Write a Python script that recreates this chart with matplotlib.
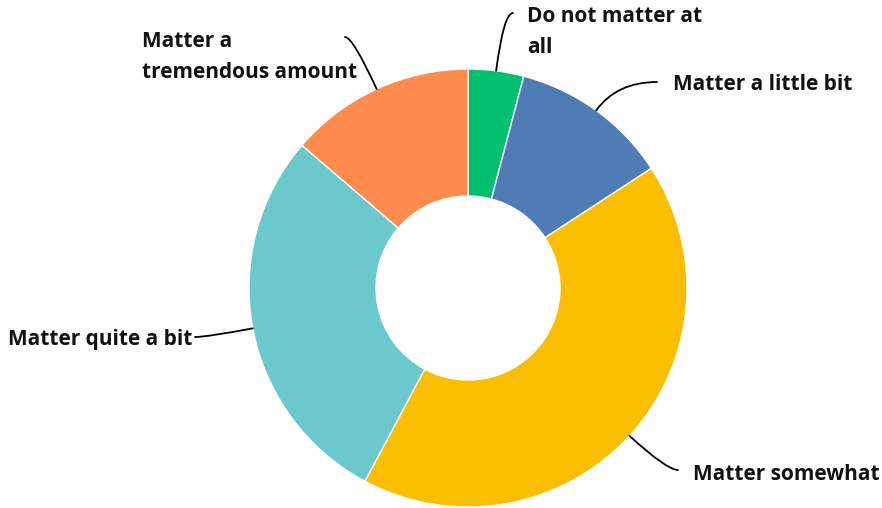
import numpy as np
import matplotlib
matplotlib.use("Agg")
import matplotlib.pyplot as plt

categories = ["Do not matter at\nall", "Matter a little bit", "Matter somewhat",
              "Matter quite a bit", "Matter a\ntremendous amount"]
values = [4.1, 11.7, 42.0, 28.5, 13.7]
colors = ["#00BF6F", "#507CB6", "#F9BE00", "#6BC8CD", "#FF8B4F"]

W, H = 882, 508
fig = plt.figure(figsize=(W / 100, H / 100), dpi=100)
ax = fig.add_axes([0, 0, 1, 1])
ax.set_xlim(0, W)
ax.set_ylim(0, H)
ax.set_aspect("equal")
ax.axis("off")

cx, cy, R = 468, H - 288, 219
wedges, _ = ax.pie(values, colors=colors, startangle=90, counterclock=False,
                   radius=R, center=(cx, cy),
                   wedgeprops=dict(width=R * 0.58, edgecolor="white", linewidth=1))
ax.set_xlim(0, W)
ax.set_ylim(0, H)

# label layout: (line end x, y in image px), (text x, text y in image px)
layout = [
    ((513, 13), (527, 32)),
    ((657, 82), (673, 85)),
    ((678, 470), (693, 474)),
    ((195, 337), (8, 340)),
    ((345, 37), (142, 57)),
]

for w, lab, (end, tpos) in zip(wedges, categories, layout):
    mid = np.deg2rad((w.theta1 + w.theta2) / 2)
    sx, sy = cx + R * np.cos(mid), cy + R * np.sin(mid)
    ex, ey = end[0], H - end[1]
    ang = np.rad2deg(mid)
    ax.annotate("", xy=(sx, sy), xytext=(ex, ey),
                arrowprops=dict(arrowstyle="-", color="black", lw=1.3,
                                shrinkA=0, shrinkB=0,
                                connectionstyle=f"angle3,angleA=0,angleB={ang}"))
    ax.text(tpos[0], H - tpos[1], lab, ha="left", va="center", fontsize=15,
            fontweight="bold", family="Open Sans", linespacing=1.65, color="#111111")

fig.savefig("out.png", dpi=100)
